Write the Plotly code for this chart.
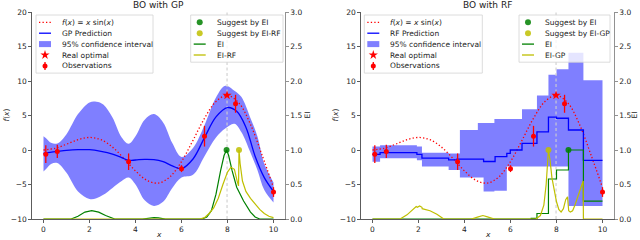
import plotly.graph_objects as go

# ---------------- data ----------------
x_ticks = [0, 2, 4, 6, 8, 10]
f_ticks = [-10, -5, 0, 5, 10, 15, 20]
ei_ticks = [0.0, 0.5, 1.0, 1.5, 2.0, 2.5, 3.0]

# objective f(x) = x sin(x), sampled
f_x = [0.0, 0.5, 1.0, 1.5, 2.0, 2.5, 3.0, 3.5, 4.0, 4.5, 5.0, 5.5, 6.0, 6.5, 7.0,
       7.5, 8.0, 8.5, 9.0, 9.5, 10.0]
f_y = [0.0, 0.24, 0.841, 1.496, 1.819, 1.496, 0.423, -1.228, -3.027, -4.399, -4.795,
       -3.88, -1.676, 1.398, 4.599, 7.035, 7.915, 6.787, 3.709, -0.714, -5.44]

obs_x = [0.1, 0.6, 3.7, 6.0, 7.0, 8.35, 10.0]
obs_y = [-0.6, -0.2, -1.7, -2.7, 2.0, 6.7, -6.1]
obs_err = [1.3, 0.95, 1.2, 0.5, 1.5, 1.3, 0.7]

opt_x = [7.98]
opt_y = [7.92]

# GP panel
gp_x = [0.0, 0.1, 0.35, 0.6, 1.0, 1.5, 2.0, 2.5, 3.0, 3.4, 3.7, 4.0, 4.4, 4.8, 5.2,
        5.6, 6.0, 6.5, 7.0, 7.5, 8.0, 8.4, 8.8, 9.2, 9.6, 10.0]
gp_mean = [-0.5, -0.45, -0.3, -0.2, -0.05, 0.05, 0.05, -0.2, -0.6, -1.1, -1.5, -1.45,
           -1.35, -1.4, -1.7, -2.3, -2.7, -1.3, 1.8, 4.8, 6.15, 5.6, 3.3, -0.9, -4.0, -6.0]
gp_band_x = [0.0, 0.1, 0.35, 0.6, 1.0, 1.5, 2.0, 2.3, 2.6, 3.0, 3.4, 3.7, 4.0, 4.4,
             4.8, 5.2, 5.6, 6.0, 6.5, 7.0, 7.5, 7.9, 8.3, 8.6, 9.0, 9.3, 9.6, 10.0]
gp_upper = [2.0, 1.75, 1.0, 0.95, 2.3, 5.2, 6.9, 7.0, 6.6, 4.7, 1.8, 0.9, 2.0, 4.4,
            5.2, 4.0, 1.0, -1.0, 0.3, 3.6, 7.6, 9.3, 8.6, 7.7, 4.6, 2.0, -2.0, -4.7]
gp_lower = [-3.1, -2.8, -2.0, -1.9, -3.3, -6.0, -7.1, -7.0, -6.5, -5.5, -4.5, -4.0,
            -5.0, -7.3, -8.1, -7.5, -5.5, -4.0, -3.6, -0.9, 1.8, 3.1, 3.8, 2.6, -0.4,
            -2.9, -5.8, -7.6]

ei_gp_x = [0.0, 1.2, 1.5, 1.8, 2.1, 2.4, 2.7, 3.1, 4.3, 4.6, 4.8, 5.0, 5.3, 6.9, 7.1,
           7.3, 7.5, 7.7, 7.85, 7.96, 8.05, 8.2, 8.4, 8.7, 9.0, 9.2, 9.4, 10.0]
ei_gp_y = [0, 0, 0.04, 0.1, 0.12, 0.1, 0.05, 0, 0, 0.015, 0.02, 0.015, 0, 0, 0.03,
           0.12, 0.36, 0.7, 0.92, 1.0, 0.92, 0.7, 0.46, 0.26, 0.1, 0.03, 0, 0]
ei_rf_on_gp_x = [0.0, 6.8, 7.0, 7.2, 7.4, 7.6, 7.8, 8.0, 8.15, 8.3, 8.42, 8.48, 8.5,
                 8.55, 8.65, 8.8, 9.0, 9.2, 9.4, 9.6, 9.8, 10.0]
ei_rf_on_gp_y = [0, 0, 0.02, 0.08, 0.16, 0.3, 0.5, 0.68, 0.75, 0.72, 0.55, 0.48, 1.0,
                 0.8, 0.55, 0.4, 0.3, 0.22, 0.14, 0.08, 0.04, 0.02]
sugg_ei_gp = (7.96, 1.0)
sugg_eirf_gp = (8.5, 1.0)

# RF panel (step functions: edges has one more entry than values)
rf_edges = [0.0, 0.33, 1.93, 2.15, 3.31, 3.67, 4.83, 5.33, 5.84, 5.99, 6.5, 7.15, 7.65,
            8.0, 8.52, 9.17, 10.0]
rf_mean = [-0.62, -0.38, -0.62, -1.19, -1.43, -1.33, -1.67, -0.95, -0.48, 0.0, 0.95,
           2.62, 4.76, 4.6, 2.9, -1.5]
rf_band_edges = [0.0, 0.33, 1.93, 2.15, 3.31, 3.8, 4.58, 4.83, 5.3, 5.84, 6.5, 7.15,
                 7.65, 8.0, 8.52, 9.17, 10.0]
rf_upper = [0.5, 0.7, 0.5, -0.4, -0.5, 2.9, 3.9, 3.9, 4.5, 4.5, 5.9, 7.9, 10.9, 11.7,
            14.1, 10.1]
rf_lower = [-1.7, -1.2, -1.5, -2.4, -2.9, -4.0, -4.0, -6.0, -5.9, -2.4, -2.4, -2.4,
            -2.4, -2.4, -8.1, -8.1]

ei_rf_edges = [0.0, 6.9, 7.15, 7.65, 8.0, 8.52, 9.17, 10.0]
ei_rf_vals = [0.0, 0.01, 0.08, 0.58, 0.71, 1.0, 0.26]
ei_gp_on_rf_x = [0.0, 1.2, 1.5, 1.8, 1.9, 1.95, 2.05, 2.15, 2.16, 2.5, 2.8, 3.1, 4.3,
                 4.6, 4.8, 5.0, 5.3, 7.1, 7.3, 7.45, 7.55, 7.65, 7.72, 7.8, 7.9, 8.0,
                 8.1, 8.2, 8.3, 8.4, 8.48, 8.53, 8.6, 8.7, 8.8, 8.9, 9.0, 9.1, 9.16,
                 9.17, 10.0]
ei_gp_on_rf_y = [0, 0, 0.06, 0.14, 0.18, 0.17, 0.19, 0.17, 0.15, 0.12, 0.07, 0.0, 0,
                 0.03, 0.05, 0.03, 0, 0, 0.05, 0.2, 0.5, 1.0, 0.85, 0.6, 0.4, 0.25,
                 0.14, 0.1, 0.15, 0.28, 0.32, 0.12, 0.1, 0.12, 0.2, 0.3, 0.4, 0.5, 0.55,
                 0.0, 0.0]
sugg_ei_rf = (8.52, 1.0)
sugg_eigp_rf = (7.65, 1.0)

# ---------------- styling / layout constants ----------------
W, H = 640, 240
L, R, T, B = 32, 26, 12, 21
PW, PH = W - L - R, H - T - B
FONT = "DejaVu Sans"
RED, BLUE, BAND = "#ff0000", "#0000ff", "rgba(0,0,255,0.5)"
GREEN, YELLOW = "#008000", "#bfbf00"
GREEN_M, YELLOW_M = "rgba(0,128,0,0.85)", "rgba(191,191,0,0.85)"
DOT = "1.3px,2.2px"
STAR = 7


def xp(px):
    return (px - L) / PW


def yp(py):
    return (H - B - py) / PH


def steps(edges, vals):
    return list(edges), list(vals) + [vals[-1]]


fig = go.Figure()


def add_common(xa, ya, ya2, band_traces, mean_trace, ei_traces):
    for tr in band_traces:
        fig.add_trace(tr.update(xaxis=xa, yaxis=ya))
    fig.add_trace(go.Scatter(x=f_x, y=f_y, mode="lines", line=dict(color=RED, width=1.3, dash=DOT, shape="spline"),
                             xaxis=xa, yaxis=ya, showlegend=False, hoverinfo="skip"))
    fig.add_trace(go.Scatter(x=opt_x * 2, y=[-10, 20], mode="lines",
                             line=dict(color="#cfcfcf", width=1.1, dash="3px,2.5px"),
                             xaxis=xa, yaxis=ya, showlegend=False, hoverinfo="skip"))
    fig.add_trace(mean_trace.update(xaxis=xa, yaxis=ya))
    fig.add_trace(go.Scatter(x=opt_x, y=opt_y, mode="markers",
                             marker=dict(symbol="star", size=STAR, color=RED, line=dict(width=0)),
                             xaxis=xa, yaxis=ya, showlegend=False))
    fig.add_trace(go.Scatter(x=obs_x, y=obs_y, mode="markers",
                             marker=dict(size=5, color=RED, line=dict(width=0)),
                             error_y=dict(type="data", array=obs_err, visible=True, color=RED, thickness=1.3, width=0),
                             xaxis=xa, yaxis=ya, showlegend=False))
    for tr in ei_traces:
        fig.add_trace(tr.update(xaxis=xa, yaxis=ya2))


# left panel: GP
add_common(
    "x", "y", "y2",
    [go.Scatter(x=gp_band_x, y=gp_upper, mode="lines", line=dict(width=0, shape="spline"), showlegend=False),
     go.Scatter(x=gp_band_x, y=gp_lower, mode="lines", line=dict(width=0, shape="spline"), fill="tonexty",
                fillcolor=BAND, showlegend=False)],
    go.Scatter(x=gp_x, y=gp_mean, mode="lines", line=dict(color=BLUE, width=1.3, shape="spline"), showlegend=False),
    [go.Scatter(x=ei_gp_x, y=ei_gp_y, mode="lines", line=dict(color=GREEN, width=1.2), showlegend=False),
     go.Scatter(x=ei_rf_on_gp_x, y=ei_rf_on_gp_y, mode="lines", line=dict(color=YELLOW, width=1.2), showlegend=False),
     go.Scatter(x=[sugg_ei_gp[0]], y=[sugg_ei_gp[1]], mode="markers", marker=dict(size=6, color=GREEN_M), showlegend=False),
     go.Scatter(x=[sugg_eirf_gp[0]], y=[sugg_eirf_gp[1]], mode="markers", marker=dict(size=6, color=YELLOW_M), showlegend=False)],
)

# right panel: RF
bx, bu = steps(rf_band_edges, rf_upper)
_, bl = steps(rf_band_edges, rf_lower)
mx, my = steps(rf_edges, rf_mean)
ex, ey = steps(ei_rf_edges, ei_rf_vals)
add_common(
    "x2", "y3", "y4",
    [go.Scatter(x=bx, y=bu, mode="lines", line=dict(width=0, shape="hv"), showlegend=False),
     go.Scatter(x=bx, y=bl, mode="lines", line=dict(width=0, shape="hv"), fill="tonexty",
                fillcolor=BAND, showlegend=False)],
    go.Scatter(x=mx, y=my, mode="lines", line=dict(color=BLUE, width=1.3, shape="hv"), showlegend=False),
    [go.Scatter(x=ex, y=ey, mode="lines", line=dict(color=GREEN, width=1.2, shape="hv"), showlegend=False),
     go.Scatter(x=ei_gp_on_rf_x, y=ei_gp_on_rf_y, mode="lines", line=dict(color=YELLOW, width=1.2), showlegend=False),
     go.Scatter(x=[sugg_ei_rf[0]], y=[sugg_ei_rf[1]], mode="markers", marker=dict(size=6, color=GREEN_M), showlegend=False),
     go.Scatter(x=[sugg_eigp_rf[0]], y=[sugg_eigp_rf[1]], mode="markers", marker=dict(size=6, color=YELLOW_M), showlegend=False)],
)

# ---------------- hand-drawn matplotlib-like legends (pixel overlay axis) ----------------
FX = "<i>f</i>(<i>x</i>) = <i>x</i> sin(<i>x</i>)"
legends = [
    (36, 15, 117, [("dotline", RED, FX), ("line", BLUE, "GP Prediction"), ("patch", BAND, "95% confidence interval"),
                   ("star", RED, "Real optimal"), ("err", RED, "Observations")]),
    (190.7, 15, 92.3, [("dot", GREEN_M, "Suggest by EI"), ("dot", YELLOW_M, "Suggest by EI-RF"),
                       ("line", GREEN, "EI"), ("line", YELLOW, "EI-RF")]),
    (364.3, 15, 118, [("dotline", RED, FX), ("line", BLUE, "RF Prediction"), ("patch", BAND, "95% confidence interval"),
                      ("star", RED, "Real optimal"), ("err", RED, "Observations")]),
    (519, 15, 91, [("dot", GREEN_M, "Suggest by EI"), ("dot", YELLOW_M, "Suggest by EI-GP"),
                   ("line", GREEN, "EI"), ("line", YELLOW, "EI-GP")]),
]
ROW = 10.9
annotations = []
for lx, ly, lw, items in legends:
    lh = ROW * len(items) + 3.6
    fig.add_trace(go.Scatter(x=[lx, lx + lw, lx + lw, lx, lx], y=[ly, ly, ly + lh, ly + lh, ly],
                             mode="lines", fill="toself", fillcolor="rgba(255,255,255,0.8)",
                             line=dict(color="#d3d3d3", width=0.8), xaxis="x5", yaxis="y5",
                             showlegend=False, hoverinfo="skip"))
    for i, (kind, col, label) in enumerate(items):
        cy = ly + 7.3 + i * ROW
        gx0, gx1, gc = lx + 3, lx + 15, lx + 9
        common = dict(xaxis="x5", yaxis="y5", showlegend=False, hoverinfo="skip")
        if kind in ("line", "dotline"):
            fig.add_trace(go.Scatter(x=[gx0, gx1], y=[cy, cy], mode="lines",
                                     line=dict(color=col, width=1.3, dash=DOT if kind == "dotline" else "solid"), **common))
        elif kind == "patch":
            fig.add_trace(go.Scatter(x=[gx0, gx1, gx1, gx0, gx0], y=[cy - 3, cy - 3, cy + 3, cy + 3, cy - 3],
                                     mode="lines", fill="toself", fillcolor=col, line=dict(width=0), **common))
        elif kind == "star":
            fig.add_trace(go.Scatter(x=[gc], y=[cy], mode="markers",
                                     marker=dict(symbol="star", size=STAR, color=col, line=dict(width=0)), **common))
        elif kind == "err":
            fig.add_trace(go.Scatter(x=[gc], y=[cy], mode="markers", marker=dict(size=5, color=col, line=dict(width=0)),
                                     error_y=dict(type="data", array=[4], visible=True, color=col, thickness=1.3, width=0),
                                     **common))
        elif kind == "dot":
            fig.add_trace(go.Scatter(x=[gc], y=[cy], mode="markers", marker=dict(size=6, color=col), **common))
        annotations.append(dict(x=xp(lx + 24), y=yp(cy), xref="paper", yref="paper", text=label, showarrow=False,
                                xanchor="left", yanchor="middle", font=dict(size=7.5, family=FONT, color="#222")))

# titles and axis labels
for cx, title, ylab_x, ei_x in [((L + 285) / 2, "BO with GP", 6, 307), ((361 + L + PW) / 2, "BO with RF", 335, 634)]:
    annotations.append(dict(x=xp(cx), y=yp(5), xref="paper", yref="paper", text=title, showarrow=False,
                            xanchor="center", yanchor="middle", font=dict(size=9, family=FONT, color="#222")))
    annotations.append(dict(x=xp(cx), y=yp(234), xref="paper", yref="paper", text="<i>x</i>", showarrow=False,
                            xanchor="center", yanchor="middle", font=dict(size=7.5, family=FONT, color="#222")))
    annotations.append(dict(x=xp(ylab_x), y=yp(115.5), xref="paper", yref="paper", text="<i>f</i>(<i>x</i>)",
                            textangle=-90, showarrow=False, xanchor="center", yanchor="middle",
                            font=dict(size=7.5, family=FONT, color="#222")))
    annotations.append(dict(x=xp(ei_x), y=yp(115.5), xref="paper", yref="paper", text="EI",
                            textangle=-90, showarrow=False, xanchor="center", yanchor="middle",
                            font=dict(size=7.5, family=FONT, color="#222")))

tickfont = dict(size=7.5, family=FONT, color="#222")
xax = dict(range=[-0.5, 10.5], tickvals=x_ticks, ticks="outside", ticklen=3, tickwidth=0.8, tickcolor="#333",
           showline=True, linecolor="#333", linewidth=0.8, showgrid=False, zeroline=False, tickfont=tickfont,
           automargin=False)
yax = dict(range=[-10, 20], tickvals=f_ticks, ticks="outside", ticklen=3, tickwidth=0.8, tickcolor="#333",
           showline=True, linecolor="#333", linewidth=0.8, showgrid=False, zeroline=False, tickfont=tickfont,
           automargin=False)
eax = dict(range=[0, 3], tickvals=ei_ticks, tickformat=".1f", ticks="outside", ticklen=3, tickwidth=0.8,
           tickcolor="#777", showline=True, linecolor="#777", linewidth=0.8, showgrid=False, zeroline=False,
           tickfont=tickfont, side="right", automargin=False)

fig.update_layout(
    template="none",
    width=W, height=H, margin=dict(l=L, r=R, t=T, b=B, pad=0, autoexpand=False),
    paper_bgcolor="white", plot_bgcolor="rgba(0,0,0,0)", showlegend=False,
    font=dict(family=FONT, size=7.5, color="#222"),
    xaxis=dict(domain=[0, xp(285)], anchor="y", **xax),
    yaxis=dict(domain=[0, 1], anchor="x", **yax),
    yaxis2=dict(overlaying="y", anchor="x", **eax),
    xaxis2=dict(domain=[xp(361), 1], anchor="y3", **xax),
    yaxis3=dict(domain=[0, 1], anchor="x2", **yax),
    yaxis4=dict(overlaying="y3", anchor="x2", **eax),
    xaxis5=dict(domain=[0, 1], range=[L, L + PW], visible=False, anchor="y5", fixedrange=True, automargin=False),
    yaxis5=dict(domain=[0, 1], range=[H - B, T], visible=False, anchor="x5", fixedrange=True, automargin=False),
    annotations=annotations,
)

fig.write_html("out.html", config={"displayModeBar": False, "staticPlot": True},
               post_script="document.documentElement.style.margin='0';document.body.style.margin='0';"
                           "document.body.style.padding='0';document.body.style.overflow='hidden';")
